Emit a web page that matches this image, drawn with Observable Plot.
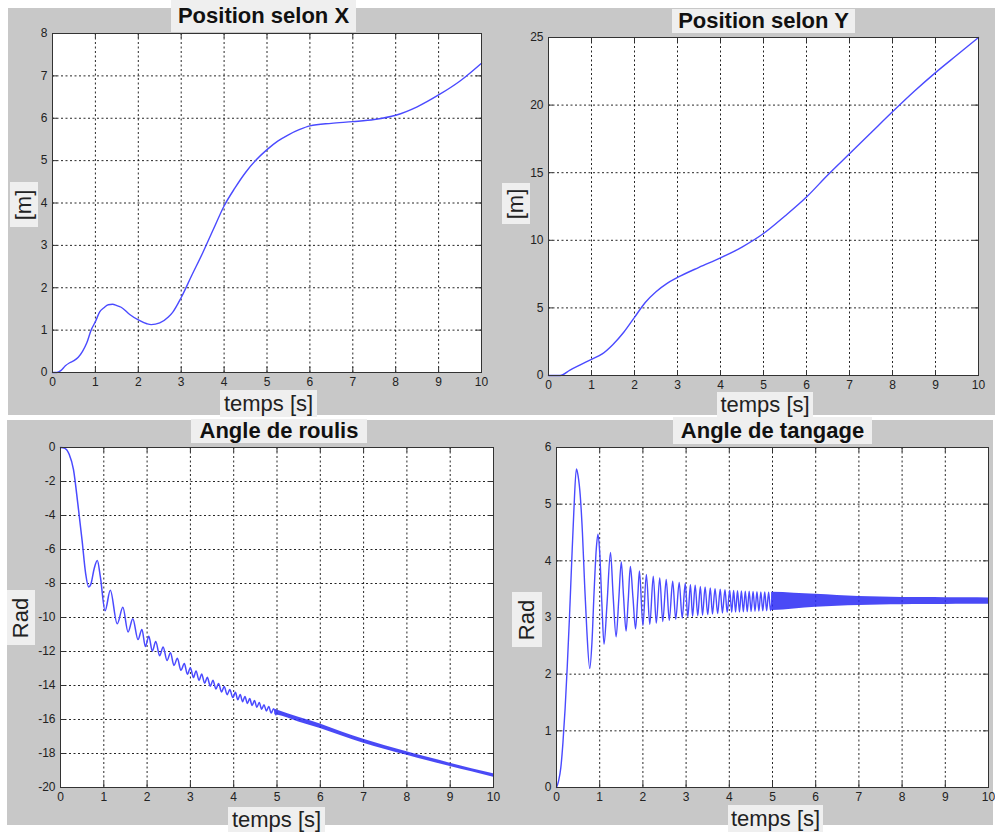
<!DOCTYPE html>
<html><head><meta charset="utf-8">
<script src="https://cdn.jsdelivr.net/npm/d3@7"></script>
<script src="https://cdn.jsdelivr.net/npm/@observablehq/plot@0.6"></script>
<style>
body{margin:0;background:#fff;}
#fig{position:relative;width:995px;height:832px;overflow:hidden;font-family:"Liberation Sans",Arial,sans-serif;}
.row{position:absolute;background:#c8c8c8;}
.panel{position:absolute;}
.lbl{position:absolute;background:#efefef;color:#111;display:flex;align-items:center;justify-content:center;white-space:nowrap;}
.title{font-weight:bold;font-size:22px;}
.xlab,.ylab{font-size:22px;color:#222;}
.ylab span{display:inline-block;transform:rotate(-90deg);}
</style></head><body><div id="fig"></div>
<script>
// ---------- data ----------
const timeTicks = [0,1,2,3,4,5,6,7,8,9,10];
const yTicksPosX = [0,1,2,3,4,5,6,7,8];
const yTicksPosY = [0,5,10,15,20,25];
const yTicksRoulis = [0,-2,-4,-6,-8,-10,-12,-14,-16,-18,-20];
const yTicksTangage = [0,1,2,3,4,5,6];

const titles = ["Position selon X","Position selon Y","Angle de roulis","Angle de tangage"];
const xLabel = "temps [s]";
const yLabels = ["[m]","[m]","Rad","Rad"];

const posX_time = [0,0.1,0.2,0.3,0.4,0.5,0.6,0.7,0.8,0.9,1.0,1.1,1.2,1.3,1.4,1.5,1.6,1.8,2.0,2.2,2.3,2.5,2.7,2.8,3.0,3.25,3.5,3.75,4.0,4.25,4.5,4.75,5.0,5.25,5.5,5.75,6.0,6.5,7.0,7.5,8.0,8.5,9.0,9.5,10.0];
const posX_m    = [0,0.0,0.05,0.16,0.23,0.28,0.36,0.5,0.7,1.0,1.2,1.43,1.53,1.6,1.61,1.58,1.54,1.37,1.24,1.15,1.13,1.17,1.31,1.42,1.77,2.3,2.82,3.38,3.93,4.35,4.72,5.02,5.26,5.46,5.61,5.73,5.82,5.88,5.92,5.97,6.07,6.27,6.55,6.88,7.3];

const posY_time = [0,0.27,0.5,0.75,1.0,1.25,1.5,1.75,2.0,2.25,2.5,2.75,3.0,3.5,4.0,4.5,5.0,5.5,6.0,6.5,7.0,7.5,8.0,8.5,9.0,9.5,10.0];
const posY_m    = [0,0.0,0.4,0.8,1.2,1.6,2.3,3.2,4.3,5.4,6.2,6.8,7.25,8.0,8.7,9.5,10.5,11.8,13.2,14.85,16.4,17.95,19.5,21.0,22.4,23.7,25.0];

const roulis_time = [0,0.1,0.2,0.3,0.4,0.5,0.58,0.65,0.7,0.78,0.85,0.92,1.03,1.15,1.31,1.44,1.56,1.67,1.79,1.88,1.96,2.04,2.12,2.2,2.29,2.37,2.46,2.54,2.62,2.7,2.78,2.86,2.93,3.0,3.07,3.13,3.2,3.26,3.33,3.39,3.46,3.52,3.59,3.65,3.72,3.78,3.85,3.91,3.98,
  4.04,4.095,4.15,4.205,4.26,4.315,4.37,4.425,4.48,4.535,4.59,4.645,4.7,4.755,4.81,4.865,4.92,4.975];
const roulis_rad  = [0,-0.05,-0.4,-1.3,-3.3,-5.5,-7.4,-8.2,-8.05,-7.1,-6.65,-7.6,-9.6,-8.4,-10.37,-9.4,-10.85,-10.07,-11.3,-10.7,-11.71,-11.1,-11.98,-11.41,-12.25,-11.73,-12.53,-12.07,-12.82,-12.4,-13.1,-12.71,-13.34,-12.95,-13.53,-13.14,-13.7,-13.33,-13.87,-13.52,-14.04,-13.69,-14.21,-13.88,-14.38,-14.06,-14.54,-14.24,-14.71,
  -14.4,-14.84,-14.53,-14.95,-14.64,-15.06,-14.77,-15.17,-14.88,-15.28,-15.0,-15.39,-15.13,-15.5,-15.24,-15.62,-15.37,-15.72];
const roulisBand_time = [4.95,5.0,5.5,6.0,6.5,7.0,7.5,8.0,8.5,9.0,9.5,10.0];
const roulisBand_low  = [-15.72,-15.74,-16.15,-16.53,-16.97,-17.39,-17.76,-18.1,-18.44,-18.77,-19.08,-19.39];
const roulisBand_high = [-15.4,-15.44,-15.87,-16.27,-16.73,-17.16,-17.54,-17.89,-18.24,-18.57,-18.89,-19.19];

const tangage_time = [0,0.05,0.1,0.15,0.2,0.25,0.3,0.35,0.4,0.46,0.5,0.55,0.6,0.65,0.7,0.77,0.82,0.87,0.92,0.96,1.0,1.05,1.1,1.17,1.25,1.31,1.38,1.44,1.5,1.55,1.61,1.66,1.71,1.77,1.83,1.88,1.92,2.0,2.08,2.16,2.24,2.31,2.39,2.46,2.54,2.61,2.69,2.76,2.84,2.91,2.98,3.04,3.1,3.15,3.21,3.27,3.33,3.38,3.44,3.5,3.56,3.61,3.67,3.73,3.79,3.84,3.9,3.95,4.01,
  4.055,4.1,4.145,4.19,4.235,4.28,4.325,4.37,4.415,4.46,4.505,4.55,4.595,4.64,4.685,4.73,4.775,4.82,4.865,4.91,4.955,5.0];
const tangage_rad  = [0,0.12,0.35,0.8,1.4,2.15,3.0,3.95,4.85,5.62,5.5,5.15,4.5,3.6,2.8,2.1,2.55,3.45,4.2,4.47,4.15,3.25,2.53,3.25,4.15,3.4,2.66,3.3,3.98,3.4,2.76,3.3,3.9,3.35,2.8,3.35,3.82,2.86,3.76,2.88,3.73,2.9,3.7,2.93,3.67,2.95,3.64,2.97,3.62,2.99,3.6,3.01,3.58,3.02,3.57,3.03,3.55,3.04,3.54,3.05,3.52,3.06,3.51,3.07,3.5,3.08,3.49,3.09,3.48,
  3.092,3.477,3.095,3.473,3.098,3.47,3.101,3.466,3.104,3.462,3.108,3.458,3.111,3.455,3.114,3.452,3.117,3.449,3.12,3.446,3.123,3.443];
const tangageBand_time = [4.98,5.0,5.5,6.0,6.5,7.0,7.5,8.0,8.5,9.0,9.5,10.0];
const tangageBand_low  = [3.125,3.125,3.152,3.18,3.198,3.21,3.22,3.225,3.228,3.23,3.233,3.235];
const tangageBand_high = [3.445,3.445,3.428,3.41,3.39,3.372,3.362,3.355,3.352,3.35,3.348,3.345];

// ---------- layout ----------
const fig = document.getElementById("fig");
const rows = [[8,8,987,407],[7,420,986,405]];
rows.forEach(([x,y,w,h]) => {
  const d = document.createElement("div");
  d.className = "row";
  Object.assign(d.style,{left:x+"px",top:y+"px",width:w+"px",height:h+"px"});
  fig.appendChild(d);
});

const LINE = "#4a4aff";
const BAND = "#2a2af5";
const panels = [
  {box:[8,8,489,407], frame:[52,33,481,372], yd:[0,8], yt:yTicksPosX,
   marks:[Plot.line({length:posX_time.length},{x:posX_time,y:posX_m,stroke:LINE,strokeWidth:1.4,curve:"monotone-x"})]},
  {box:[497,8,498,407], frame:[548,37,978,375], yd:[0,25], yt:yTicksPosY,
   marks:[Plot.line({length:posY_time.length},{x:posY_time,y:posY_m,stroke:LINE,strokeWidth:1.4,curve:"monotone-x"})]},
  {box:[7,420,488,405], frame:[60,447,493,787], yd:[-20,0], yt:yTicksRoulis,
   marks:[
     Plot.areaY({length:roulisBand_time.length},{x:roulisBand_time,y1:roulisBand_low,y2:roulisBand_high,fill:BAND,fillOpacity:0.85,curve:"monotone-x"}),
     Plot.line({length:roulis_time.length},{x:roulis_time,y:roulis_rad,stroke:LINE,strokeWidth:1.5,curve:"monotone-x"})]},
  {box:[495,420,498,405], frame:[556,447,988,787], yd:[0,6], yt:yTicksTangage,
   marks:[
     Plot.areaY({length:tangageBand_time.length},{x:tangageBand_time,y1:tangageBand_low,y2:tangageBand_high,fill:BAND,fillOpacity:0.85,curve:"monotone-x"}),
     Plot.line({length:tangage_time.length},{x:tangage_time,y:tangage_rad,stroke:LINE,strokeWidth:1.4,curve:"monotone-x"})]}
];

const labelBoxes = [
  {title:[171,0,185,32], xlab:[220,390,97,27], ylab:[10,182,28,45]},
  {title:[672,9,183,24], xlab:[717,392,96,25], ylab:[502,183,28,41]},
  {title:[191,419,176,24], xlab:[228,807,97,25], ylab:[7,590,28,55]},
  {title:[673,417,199,27], xlab:[728,805,95,27], ylab:[512,592,30,55]}
];

const fmt = d => String(d);

panels.forEach((p,i) => {
  const [sx,sy,sw,sh] = p.box;
  const [fl,ft,fr,fb] = p.frame;
  const plotW = fr - fl, plotH = fb - ft;
  const grid = {stroke:"#000",strokeOpacity:0.85,strokeDasharray:"2,2.5",strokeWidth:1};
  const chart = Plot.plot({
    width: sw, height: sh,
    marginLeft: fl - sx, marginTop: ft - sy, marginRight: sx + sw - fr, marginBottom: sy + sh - fb,
    style:{background:"transparent",fontFamily:"'Liberation Sans',Arial,sans-serif",fontSize:"12px",color:"#222",overflow:"visible"},
    x:{domain:[0,10]},
    y:{domain:p.yd},
    marks:[
      Plot.frame({fill:"white",stroke:"none"}),
      Plot.gridX(timeTicks, grid),
      Plot.gridY(p.yt, grid),
      ...p.marks,
      Plot.ruleX(timeTicks,{x:d=>d,insetTop:plotH-5,stroke:"#333"}),
      Plot.ruleX(timeTicks,{x:d=>d,insetBottom:plotH-5,stroke:"#333"}),
      Plot.ruleY(p.yt,{y:d=>d,insetRight:plotW-5,stroke:"#333"}),
      Plot.ruleY(p.yt,{y:d=>d,insetLeft:plotW-5,stroke:"#333"}),
      Plot.frame({stroke:"#333"}),
      Plot.axisX(timeTicks,{tickSize:0,tickPadding:5,tickFormat:fmt,label:null,fontSize:12}),
      Plot.axisY(p.yt,{tickSize:0,tickPadding:5,tickFormat:fmt,label:null,fontSize:12})
    ]
  });
  chart.classList.add("panel");
  Object.assign(chart.style,{left:sx+"px",top:sy+"px",position:"absolute"});
  fig.appendChild(chart);

  const lb = labelBoxes[i];
  const mk = (cls, r, text) => {
    const d = document.createElement("div");
    d.className = "lbl " + cls;
    Object.assign(d.style,{left:r[0]+"px",top:r[1]+"px",width:r[2]+"px",height:r[3]+"px"});
    const s = document.createElement("span");
    s.textContent = text;
    d.appendChild(s);
    fig.appendChild(d);
  };
  mk("title", lb.title, titles[i]);
  mk("xlab", lb.xlab, xLabel);
  mk("ylab", lb.ylab, yLabels[i]);
});
</script>
</body></html>
